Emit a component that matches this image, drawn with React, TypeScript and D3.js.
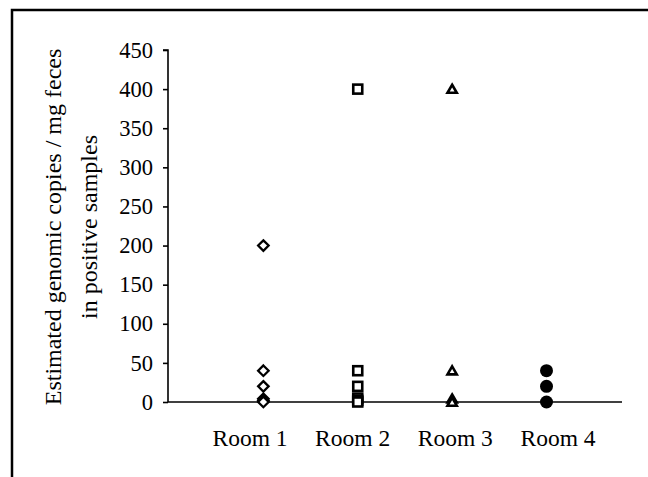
import * as d3 from 'd3';
import React, { useEffect, useRef } from 'react';

// values
const rooms = ['Room 1', 'Room 2', 'Room 3', 'Room 4'];
const room1Values = [200, 40, 20, 4, 2, 0];
const room2Values = [400, 40, 20, 5, 2, 0];
const room3Values = [400, 40, 4, 0];
const room4Values = [40, 20, 0];
const yTicks = [0, 50, 100, 150, 200, 250, 300, 350, 400, 450];
const yTitle = ['Estimated genomic copies / mg feces', 'in positive samples'];

const WIDTH = 648;
const HEIGHT = 477;

function App() {
    const svgRef = useRef<SVGSVGElement>(null);

    useEffect(() => {
        const svg = d3.select(svgRef.current);
        svg.selectAll('*').remove();

        const font = '"Liberation Serif", "Times New Roman", serif';
        const plot = { left: 168, right: 622, top: 50, bottom: 402 };

        // outer frame, runs off the right and bottom edges
        svg.append('rect')
            .attr('x', 12)
            .attr('y', 10)
            .attr('width', WIDTH + 20)
            .attr('height', HEIGHT + 20)
            .attr('fill', 'white')
            .attr('stroke', '#000')
            .attr('stroke-width', 2.5);

        const x = d3.scaleLinear().domain([0, 4.8]).range([plot.left + 1, plot.right]);
        const y = d3.scaleLinear().domain([0, 450]).range([plot.bottom, plot.top]);

        // category labels sit on their own spacing in the original
        const labelX = d3.scalePoint<string>()
            .domain(rooms)
            .range([plot.left + 82, plot.right - 64]);

        // y axis
        const yAxis = d3.axisLeft(y)
            .tickValues(yTicks)
            .tickSize(5)
            .tickPadding(10)
            .tickFormat(d3.format('d'));

        const yG = svg.append('g')
            .attr('transform', `translate(${plot.left},0)`)
            .call(yAxis);
        yG.select('.domain').attr('stroke-width', 1.6).attr('d', `M-5,${plot.top}H0V${plot.bottom}`);
        yG.selectAll('.tick line').attr('stroke-width', 1.6);
        yG.selectAll('.tick text')
            .style('font-family', font)
            .style('font-size', '22.5px')
            .attr('fill', '#000');

        // x axis baseline
        svg.append('line')
            .attr('x1', plot.left)
            .attr('x2', plot.right)
            .attr('y1', y(0))
            .attr('y2', y(0))
            .attr('stroke', '#000')
            .attr('stroke-width', 1.6);

        svg.selectAll('.room-label')
            .data(rooms)
            .join('text')
            .attr('class', 'room-label')
            .attr('x', d => labelX(d)!)
            .attr('y', 446)
            .attr('text-anchor', 'middle')
            .style('font-family', font)
            .style('font-size', '23.5px')
            .text(d => d);

        // y title, two lines rotated
        const cy = (plot.top + plot.bottom) / 2 + 1;
        yTitle.forEach((line, i) => {
            svg.append('text')
                .attr('transform', `translate(${61 + i * 36},${cy}) rotate(-90)`)
                .attr('text-anchor', 'middle')
                .style('font-family', font)
                .style('font-size', '24px')
                .text(line);
        });

        const marks = svg.append('g');

        // Room 1: open diamonds
        marks.selectAll('.diamond')
            .data(room1Values)
            .join('path')
            .attr('class', 'diamond')
            .attr('d', d3.symbol(d3.symbolDiamond2, 70))
            .attr('transform', d => `translate(${x(1)},${y(d)})`)
            .attr('fill', 'white')
            .attr('stroke', '#000')
            .attr('stroke-width', 2.3);

        // Room 2: open squares
        marks.selectAll('.square')
            .data(room2Values)
            .join('rect')
            .attr('class', 'square')
            .attr('x', x(2) - 4.5)
            .attr('y', d => y(d) - 4.5)
            .attr('width', 9)
            .attr('height', 9)
            .attr('fill', 'white')
            .attr('stroke', '#000')
            .attr('stroke-width', 2.6);

        // Room 3: open triangles
        marks.selectAll('.triangle')
            .data(room3Values)
            .join('path')
            .attr('class', 'triangle')
            .attr('d', d3.symbol(d3.symbolTriangle2, 62))
            .attr('transform', d => `translate(${x(3)},${y(d) + 1})`)
            .attr('fill', 'white')
            .attr('stroke', '#000')
            .attr('stroke-width', 2.6);

        // Room 4: filled circles
        marks.selectAll('.dot')
            .data(room4Values)
            .join('circle')
            .attr('class', 'dot')
            .attr('cx', x(4))
            .attr('cy', d => y(d))
            .attr('r', 6.5)
            .attr('fill', '#000');
    }, []);

    return (
        <svg
            ref={svgRef}
            width={WIDTH}
            height={HEIGHT}
            style={{ position: 'absolute', left: 0, top: 0, background: 'white' }}
        ></svg>
    );
}

export default App;
